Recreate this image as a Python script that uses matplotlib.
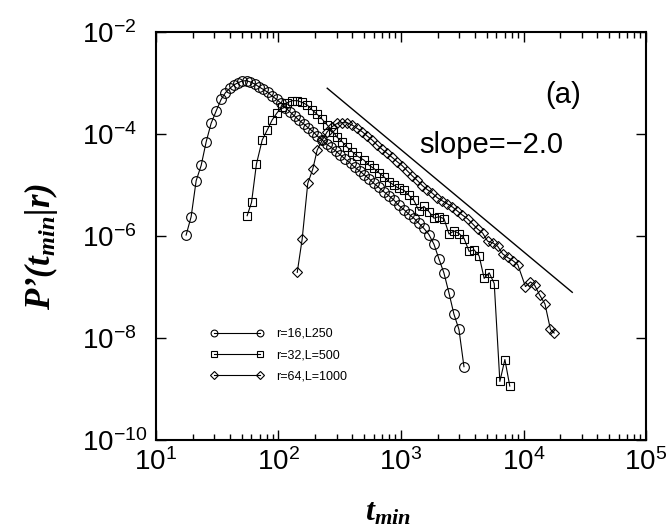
import numpy as np
import matplotlib
matplotlib.use("Agg")
import matplotlib.pyplot as plt
from matplotlib.ticker import NullLocator

plt.rcParams['font.family'] = 'Liberation Sans'
plt.rcParams['mathtext.fontset'] = 'custom'
plt.rcParams['mathtext.rm'] = 'Liberation Sans'
plt.rcParams['mathtext.it'] = 'Liberation Sans:italic'
plt.rcParams['mathtext.bf'] = 'Liberation Serif:bold:italic'

# values, stored as log10(t_min) and log10(P')
# r=16, L=250 (circles)
log_t16 = [1.246, 1.287, 1.328, 1.369, 1.410, 1.450, 1.491, 1.532, 1.567, 1.603,
           1.635, 1.671, 1.703, 1.739, 1.771, 1.807, 1.839, 1.875, 1.913, 1.948,
           1.984, 2.022, 2.057, 2.092, 2.131, 2.166, 2.207, 2.242, 2.283, 2.316,
           2.357, 2.392, 2.430, 2.468, 2.506, 2.547, 2.588, 2.623, 2.664, 2.702,
           2.740, 2.778, 2.819, 2.860, 2.901, 2.942, 2.982, 3.023, 3.064, 3.105,
           3.146, 3.187, 3.228, 3.269, 3.310, 3.350, 3.391, 3.432, 3.473, 3.514]
log_p16 = [-5.980, -5.621, -4.915, -4.614, -4.150, -3.791, -3.549, -3.320, -3.190, -3.105,
           -3.039, -2.993, -2.961, -2.954, -2.980, -3.020, -3.072, -3.124, -3.183, -3.255,
           -3.320, -3.399, -3.484, -3.562, -3.647, -3.725, -3.804, -3.876, -3.954, -4.039,
           -4.118, -4.196, -4.261, -4.333, -4.412, -4.497, -4.575, -4.654, -4.725, -4.804,
           -4.876, -4.967, -5.046, -5.131, -5.209, -5.294, -5.400, -5.480, -5.570, -5.650,
           -5.750, -5.850, -5.970, -6.160, -6.450, -6.720, -7.110, -7.530, -7.830, -8.560]

# r=32, L=500 (squares)
log_t32 = [1.744, 1.780, 1.820, 1.867, 1.908, 1.948, 1.989, 2.030, 2.071, 2.112,
           2.153, 2.193, 2.234, 2.275, 2.316, 2.357, 2.398, 2.446, 2.479, 2.520,
           2.561, 2.602, 2.642, 2.697, 2.737, 2.778, 2.819, 2.860, 2.901, 2.941,
           2.982, 3.023, 3.064, 3.105, 3.146, 3.187, 3.228, 3.269, 3.310, 3.351,
           3.392, 3.433, 3.474, 3.515, 3.556, 3.597, 3.638, 3.679, 3.720, 3.761,
           3.807, 3.848, 3.888]
log_p32 = [-5.601, -5.340, -4.588, -4.118, -3.922, -3.725, -3.582, -3.464, -3.386, -3.346,
           -3.346, -3.379, -3.431, -3.529, -3.614, -3.712, -3.824, -3.954, -4.065, -4.150,
           -4.261, -4.346, -4.431, -4.510, -4.608, -4.673, -4.758, -4.837, -4.935, -5.000,
           -5.065, -5.100, -5.200, -5.300, -5.500, -5.420, -5.520, -5.650, -5.620, -5.660,
           -5.960, -5.900, -5.950, -6.050, -6.300, -6.270, -6.390, -6.830, -6.720, -6.930,
           -8.850, -8.420, -8.940]

# r=64, L=1000 (diamonds)
log_t64 = [2.153, 2.193, 2.239, 2.280, 2.316, 2.357, 2.398, 2.438, 2.479, 2.520,
           2.561, 2.602, 2.642, 2.683, 2.724, 2.765, 2.806, 2.847, 2.887, 2.928,
           2.969, 3.010, 3.051, 3.092, 3.133, 3.174, 3.215, 3.256, 3.297, 3.338,
           3.379, 3.420, 3.461, 3.502, 3.543, 3.584, 3.625, 3.666, 3.707, 3.748,
           3.789, 3.830, 3.871, 3.912, 3.953, 4.016, 4.057, 4.090, 4.133, 4.175,
           4.220, 4.250]
log_p64 = [-6.712, -6.065, -4.967, -4.686, -4.314, -4.120, -3.954, -3.856, -3.791, -3.778,
           -3.778, -3.824, -3.889, -3.954, -4.039, -4.118, -4.216, -4.301, -4.379, -4.458,
           -4.543, -4.620, -4.720, -4.820, -4.910, -5.010, -5.090, -5.160, -5.250, -5.310,
           -5.370, -5.430, -5.510, -5.590, -5.660, -5.760, -5.860, -5.940, -6.100, -6.130,
           -6.200, -6.350, -6.420, -6.480, -6.560, -6.990, -6.900, -6.960, -7.160, -7.330,
           -7.830, -7.900]

# guide line with slope -2
slope_t = [250, 25000]
slope_p = [7.9e-4, 7.9e-8]

series_labels = ['r=16,L250', 'r=32,L=500', 'r=64,L=1000']
y_ticks = [1e-10, 1e-8, 1e-6, 1e-4, 1e-2]
y_ticklabels = ['$10^{-10}$', '$10^{-8}$', '$10^{-6}$', '$10^{-4}$', '$10^{-2}$']
x_ticks = [1e1, 1e2, 1e3, 1e4, 1e5]
x_ticklabels = ['$10^{1}$', '$10^{2}$', '$10^{3}$', '$10^{4}$', '$10^{5}$']

fig = plt.figure(figsize=(6.7, 5.29), dpi=100)
ax = fig.add_axes([0.2328, 0.168, 0.7314, 0.7715])

style = dict(color='k', mfc='none', mec='k', lw=0.8, mew=0.8)
ax.plot(10 ** np.array(log_t16), 10 ** np.array(log_p16), marker='o', ms=7,
        label=series_labels[0], **style)
ax.plot(10 ** np.array(log_t32), 10 ** np.array(log_p32), marker='s', ms=6,
        label=series_labels[1], **style)
ax.plot(10 ** np.array(log_t64), 10 ** np.array(log_p64), marker='D', ms=5.5,
        label=series_labels[2], **style)
ax.plot(slope_t, slope_p, color='k', lw=1)

ax.set_xscale('log')
ax.set_yscale('log')
ax.set_xlim(1e1, 1e5)
ax.set_ylim(1e-10, 1e-2)
ax.set_xticks(x_ticks)
ax.set_xticklabels(x_ticklabels)
ax.set_yticks(y_ticks)
ax.set_yticklabels(y_ticklabels, ha='left', va='center_baseline')
ax.yaxis.set_minor_locator(NullLocator())

ax.tick_params(which='both', direction='in', top=True, right=True, width=1)
ax.tick_params(which='major', length=7)
ax.tick_params(which='minor', length=4)
ax.tick_params(axis='x', labelsize=20, pad=6)
ax.tick_params(axis='y', labelsize=20, pad=53)
for sp in ax.spines.values():
    sp.set_linewidth(1.5)

ax.set_xlabel(r'$\mathbf{t_{min}}$', fontsize=23)
ax.xaxis.set_label_coords(0.473, -0.14)
ax.set_ylabel(r'$\mathbf{P’(t_{min}|r)}$', fontsize=25)
ax.yaxis.set_label_coords(-0.196, 0.475)

ax.text(0.684, 0.723, 'slope=\u22122.0', transform=ax.transAxes, fontsize=21,
        ha='center', va='center')
ax.text(0.83, 0.846, '(a)', transform=ax.transAxes, fontsize=21,
        ha='center', va='center')

ax.legend(loc='upper left', bbox_to_anchor=(0.11, 0.275), frameon=False,
          fontsize=9, numpoints=2, markerscale=0.7, handlelength=4.3,
          handletextpad=1.0, labelspacing=0.75, borderpad=0, borderaxespad=0)

fig.savefig('out.png', dpi=100)
